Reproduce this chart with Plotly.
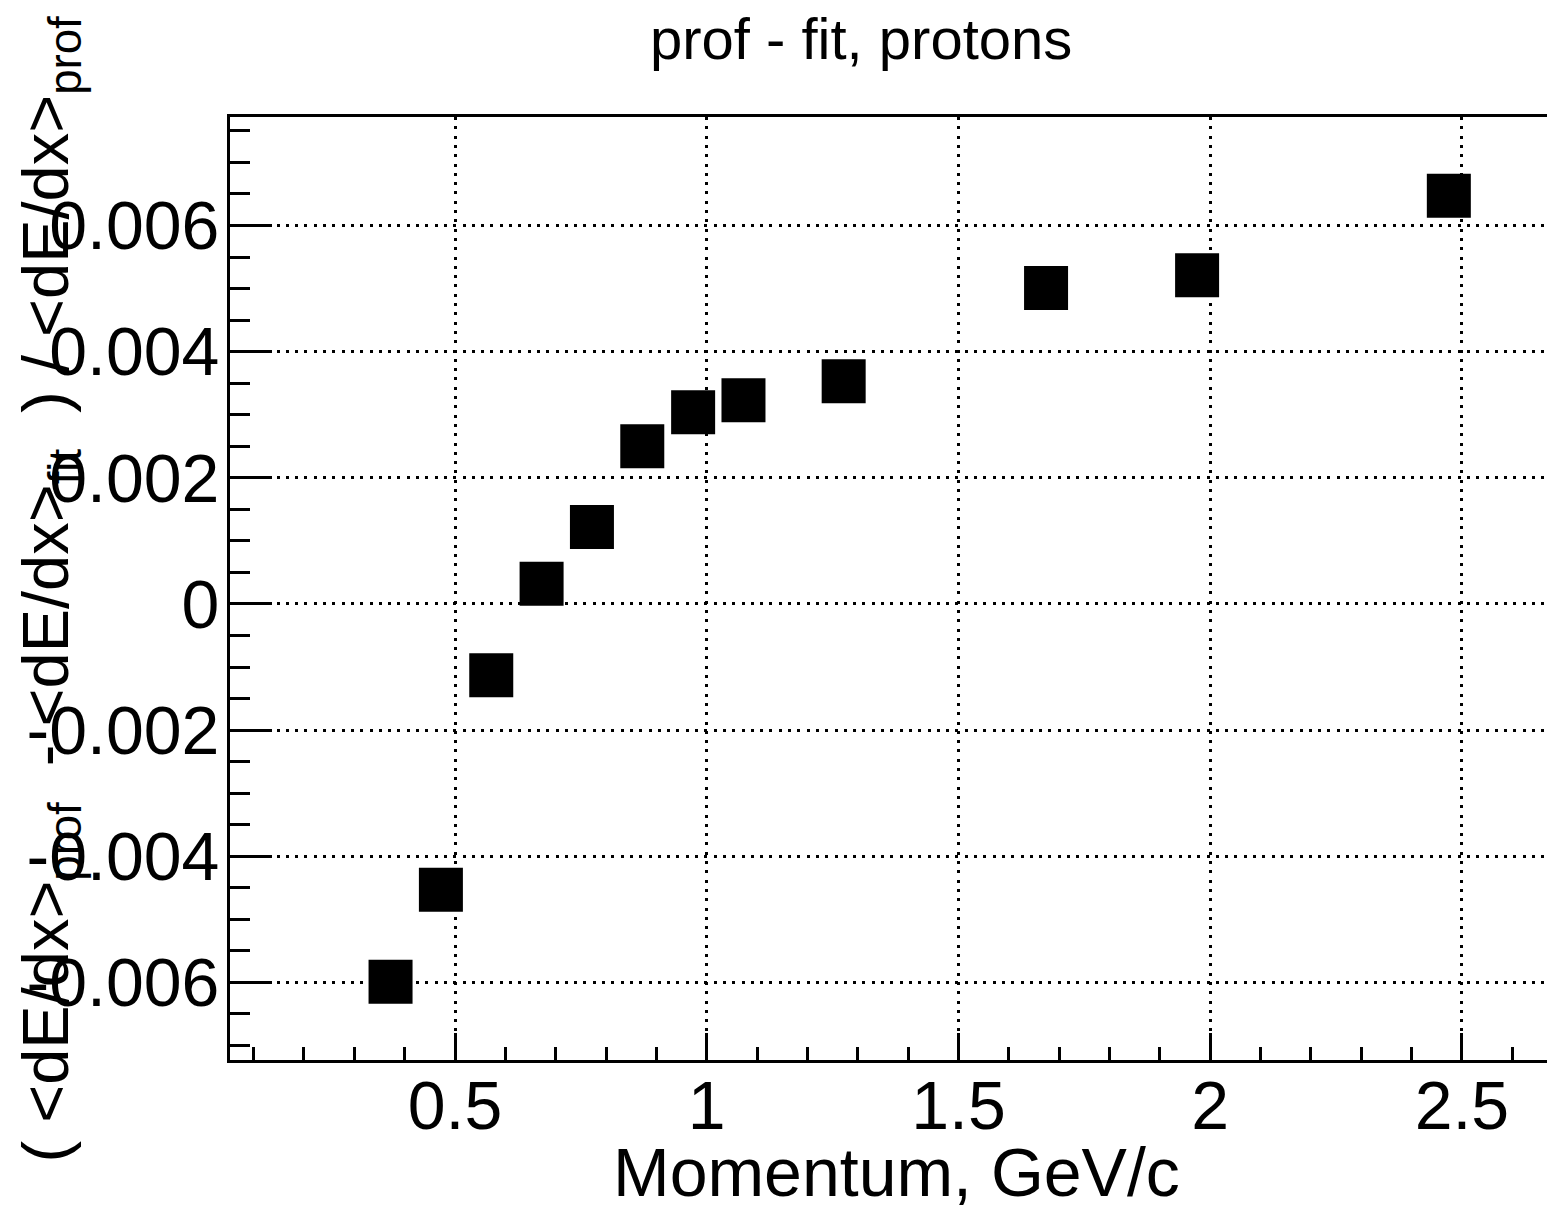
import plotly.graph_objects as go

# Data
momentum = [0.372, 0.472, 0.572, 0.672, 0.772, 0.872, 0.973, 1.073, 1.272, 1.674, 1.974, 2.474]
rel_diff = [-0.00599, -0.00453, -0.00113, 0.00032, 0.00122, 0.00250, 0.00304, 0.00323,
            0.00353, 0.00501, 0.00521, 0.00647]

x_tickvals = [0.5, 1, 1.5, 2, 2.5]
x_ticktext = ["0.5", "1", "1.5", "2", "2.5"]
y_tickvals = [-0.006, -0.004, -0.002, 0, 0.002, 0.004, 0.006]
y_ticktext = ["-0.006", "-0.004", "-0.002", "0", "0.002", "0.004", "0.006"]

title_text = "prof - fit, protons"
x_title = "Momentum, GeV/c"
y_title = ("( &lt;dE/dx&gt;<sub>prof</sub>  - &lt;dE/dx&gt;<sub>fit</sub>  ) / "
           "&lt;dE/dx&gt;<sub>prof</sub>")

FONT = "Liberation Sans, Arial, Helvetica, sans-serif"
W, H = 1547, 1210
L, R, T, B = 230, 0, 117, 150
pw, ph = W - L - R, H - T - B

def px_x(px):
    return (px - L) / pw

def px_y(py):
    return (H - B - py) / ph

fig = go.Figure()
fig.add_trace(go.Scatter(
    x=momentum, y=rel_diff, mode="markers",
    marker=dict(symbol="square", size=44, color="black", line=dict(width=0)),
    showlegend=False,
))

fig.update_layout(
    width=W, height=H,
    margin=dict(l=L, r=R, t=T, b=B),
    paper_bgcolor="white", plot_bgcolor="white",
    font=dict(family=FONT, color="black"),
    xaxis=dict(
        range=[0.0531, 2.669],
        tickvals=x_tickvals, ticktext=x_ticktext,
        ticks="inside", ticklen=27, tickwidth=2.5, tickcolor="black",
        minor=dict(dtick=0.1, tick0=0, ticks="inside", ticklen=13, tickwidth=2.5,
                   tickcolor="black", showgrid=False),
        showline=True, linecolor="black", linewidth=3, mirror=True,
        showgrid=True, gridcolor="black", gridwidth=2.5, griddash="3px,6.3px",
        zeroline=False,
        tickfont=dict(size=68, family=FONT, color="black"),
        ticklabelstandoff=-16,
    ),
    yaxis=dict(
        range=[-0.00723, 0.00772],
        tickvals=y_tickvals, ticktext=y_ticktext,
        ticks="inside", ticklen=42, tickwidth=2.5, tickcolor="black",
        minor=dict(dtick=0.0005, tick0=0, ticks="inside", ticklen=20, tickwidth=2.5,
                   tickcolor="black", showgrid=False),
        showline=True, linecolor="black", linewidth=3,
        showgrid=True, gridcolor="black", gridwidth=2.5, griddash="3px,6.3px",
        zeroline=False,
        tickfont=dict(size=68, family=FONT, color="black"),
        ticklabelstandoff=-6,
    ),
    annotations=[
        dict(text=title_text, xref="paper", yref="paper",
             x=px_x(861), y=px_y(38), xanchor="center", yanchor="middle",
             showarrow=False, font=dict(size=58, family=FONT, color="black")),
        dict(text=x_title, xref="paper", yref="paper",
             x=px_x(896), y=px_y(1172), xanchor="center", yanchor="middle",
             showarrow=False, font=dict(size=68, family=FONT, color="black")),
        dict(text=y_title, xref="paper", yref="paper", textangle=-90,
             x=px_x(6), y=px_y(590), xanchor="left", yanchor="middle",
             showarrow=False, font=dict(size=65, family=FONT, color="black")),
    ],
)

fig.write_html("out.html")
